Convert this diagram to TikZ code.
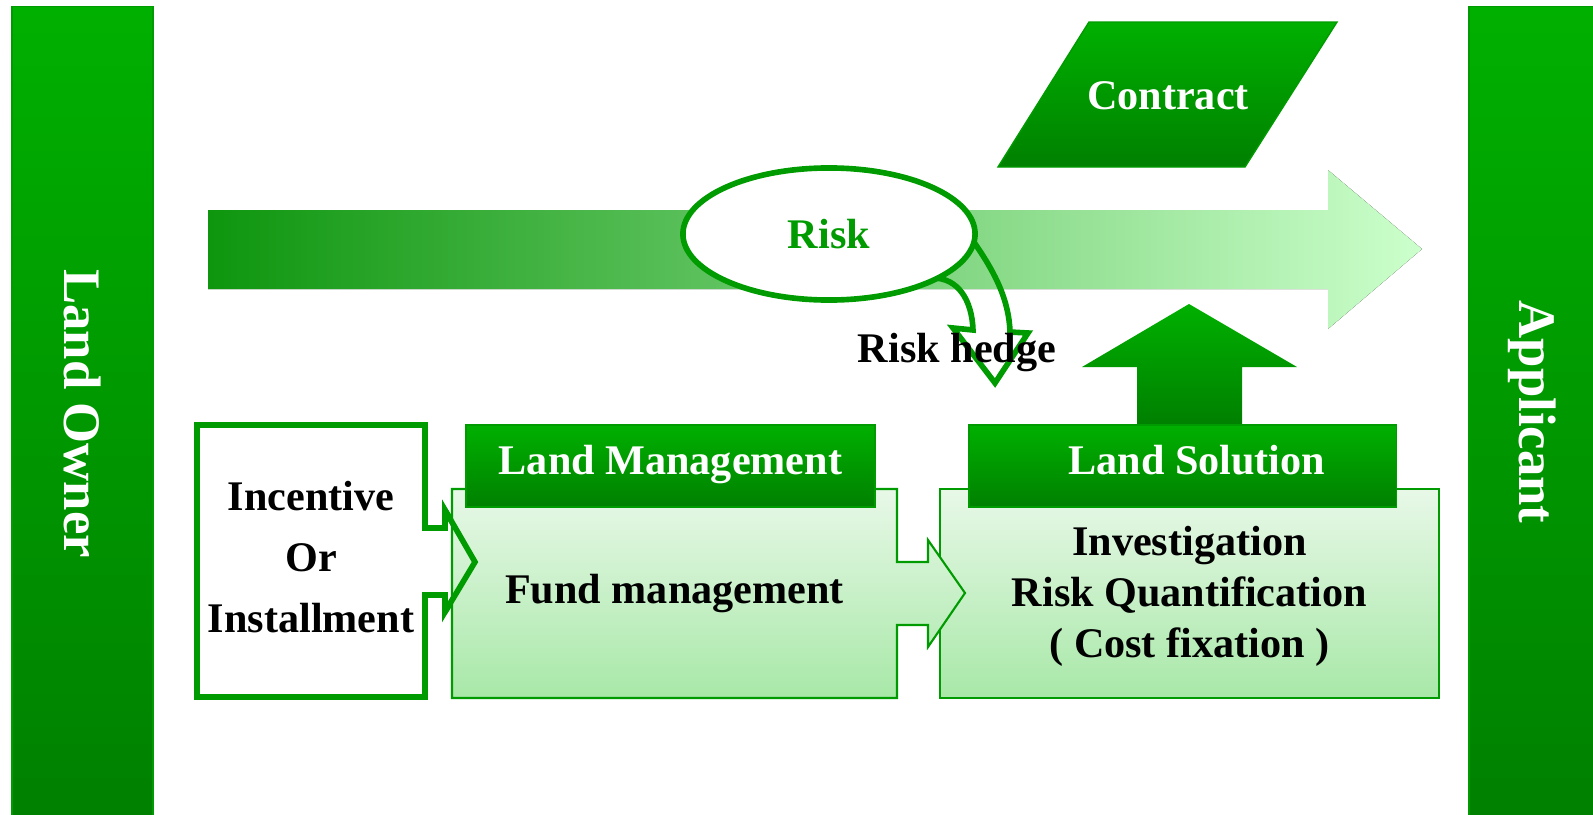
\documentclass[tikz,border=0pt]{standalone}
\usepackage{fontspec}
\setmainfont{Liberation Serif}
\usetikzlibrary{positioning, shapes.geometric}
\definecolor{gtop}{RGB}{0,176,0}
\definecolor{gbot}{RGB}{0,128,0}
\definecolor{gline}{RGB}{0,155,0}
\definecolor{paletop}{RGB}{232,248,232}
\definecolor{palebot}{RGB}{168,232,168}
\definecolor{flowleft}{RGB}{14,150,14}
\definecolor{flowmid}{RGB}{145,212,145}
\definecolor{flowright}{RGB}{204,255,204}
\tikzset{
  flow/.style={
	x=0.01cm, y=-0.01cm, % one unit is one pixel of the layout, y runs down
	font=\bfseries\fontsize{12}{14.5}\selectfont, % bold labels everywhere
	every node/.style={inner sep=0pt, outer sep=0pt},
  },
  sidebar/.style={draw=gline, top color=gtop, bottom color=gbot, minimum height=8.13cm}, % tall party bars
  sidetext/.style={text=white, rotate=-90, font=\bfseries\fontsize{15}{18}\selectfont}, % vertical names
  header/.style={draw=gline, top color=gtop, bottom color=gbot, text=white, minimum height=0.82cm,
	text height=0.7em, text depth=0.22em},
  panel/.style={draw=gline, line width=0.6pt, top color=paletop, bottom color=palebot},
  hollow/.style={draw=gline, line width=1.6pt, line join=miter},
}
\begin{document}
\begin{tikzpicture}[flow]
\useasboundingbox (0,0) rectangle (1593,815);

% the two parties
\node[sidebar, minimum width=1.41cm] (owner) at (82.5,413.5) {};
\node[sidetext] (ownername) at (owner.center) {Land Owner};
\node[sidebar, minimum width=1.31cm] (applicant) at (1534.5,413.5) {};
\node[sidetext] (applicantname) at (1532,412) {Applicant};

% risk transfer arrow
\fill[left color=flowleft, middle color=flowmid, right color=flowright]
  (208,210) -- (1328,210) -- (1328,170) -- (1422,249) -- (1328,329) -- (1328,289) -- (208,289) -- cycle;

% contract
\path[draw=gline, top color=gtop, bottom color=gbot] (1089,22) -- (1337,22) -- (1245,167) -- (998,167) -- cycle;
\node[text=white] (contract) at (1168,96) {Contract};

% solution feeds the contract
\path[top color=gtop, bottom color=gbot]
  (1137,424) -- (1137,367) -- (1082,367) -- (1189,304) -- (1297,367) -- (1242,367) -- (1242,424) -- cycle;

% risk and its hedge
\draw[hollow] (829,234) ++(-5:1.437cm and 0.66cm) coordinate (hedgeout)
  .. controls (995,272) and (1009,300) .. (1010,332) -- (1028,333) -- (995,383) -- (953,328) -- (973,330)
  .. controls (972,300) and (958,278) .. (933,278);
\node[ellipse, draw=gline, line width=1.6pt, fill=white, text=gline,
  minimum width=2.92cm, minimum height=1.32cm] (risk) at (829,234) {Risk};
\node (hedge) at (957,353) {Risk hedge};

% incentive box
\draw[hollow, fill=white] (197,425) -- (425,425) -- (425,528) -- (445,528) -- (445,510) -- (475,562)
  -- (445,612) -- (445,595) -- (425,595) -- (425,697) -- (197,697) -- cycle;

% panels
\node[panel, minimum width=4.99cm, minimum height=2.09cm] (solution) at (1189.5,593.5) {};
\path[panel] (452,489) -- (897,489) -- (897,562) -- (928,562) -- (928,540) -- (965,593)
  -- (928,647) -- (928,625) -- (897,625) -- (897,698) -- (452,698) -- cycle;
\draw[hollow] (445,510) -- (475,562) -- (445,612);

% headers
\node[header, minimum width=4.09cm] (mgmt) at (670.5,466) {Land Management};
\node[header, minimum width=4.27cm, right=0.94cm of mgmt] (solhead) {\hspace*{0.28cm}Land Solution};

% texts
\node[align=center, font=\bfseries\fontsize{12}{17.3}\selectfont] (incentive) at (311,557) {Incentive\\Or\\Installment};
\node (fund) at (674.5,594) {Fund management};
\node[align=center] (steps) at (1189.5,596) {Investigation\\Risk Quantification\\( Cost fixation )};
\end{tikzpicture}
\end{document}
